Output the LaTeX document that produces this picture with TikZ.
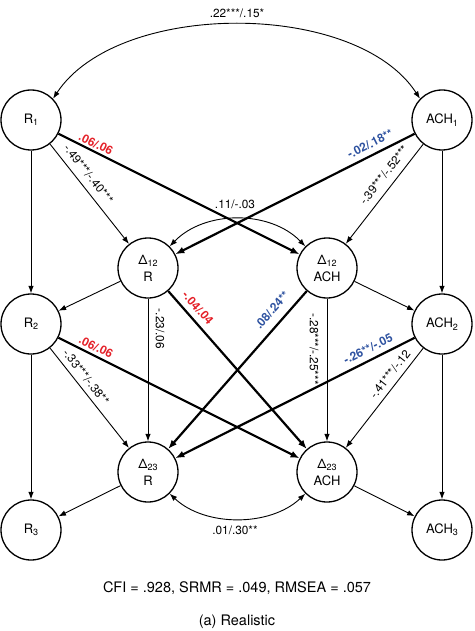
\documentclass[tikz,border=0pt]{standalone}
\usepackage{fontspec}
\setmainfont{TeX Gyre Heros}
\usetikzlibrary{arrows.meta}
\definecolor{lblred}{RGB}{228,32,40}
\definecolor{lblblue}{RGB}{46,82,160}
\newcommand{\sbs}[1]{\raisebox{-0.35ex}{\fontsize{9}{9}\selectfont #1}}
\begin{document}
\begin{tikzpicture}[x=1pt,y=1pt,
  var/.style={circle, draw, line width=1.3pt, minimum size=60pt, inner sep=0pt,
    font=\fontsize{13}{17}\selectfont, align=center},
  thinarr/.style={line width=0.9pt, -{Latex[length=7.5pt,width=5.5pt]}},
  thickarr/.style={line width=2.2pt, -{Latex[length=9pt,width=7pt]}},
  biarr/.style={line width=0.9pt, {Latex[length=7.5pt,width=5.5pt]}-{Latex[length=7.5pt,width=5.5pt]}},
  lab/.style={font=\fontsize{11.8}{13}\selectfont, inner sep=0pt},
  rlab/.style={font=\fontsize{11.8}{13}\selectfont\bfseries, inner sep=0pt, text=lblred},
  blab/.style={font=\fontsize{11.8}{13}\selectfont\bfseries, inner sep=0pt, text=lblblue},
]
\useasboundingbox (0,0) rectangle (474,-631);

\node[var] (R1) at (31,-120) {R\sbs{1}};
\node[var] (A1) at (442,-120) {ACH\sbs{1}};
\node[var] (D12R) at (148,-268) {Δ\sbs{12}\\R};
\node[var] (D12A) at (327,-268) {Δ\sbs{12}\\ACH};
\node[var] (R2) at (31,-324) {R\sbs{2}};
\node[var] (A2) at (442,-324) {ACH\sbs{2}};
\node[var] (D23R) at (148,-472) {Δ\sbs{23}\\R};
\node[var] (D23A) at (327,-472) {Δ\sbs{23}\\ACH};
\node[var] (R3) at (31,-530) {R\sbs{3}};
\node[var] (A3) at (442,-530) {ACH\sbs{3}};

\draw[thinarr] (R1) -- (R2);
\draw[thinarr] (R2) -- (R3);
\draw[thinarr] (A1) -- (A2);
\draw[thinarr] (A2) -- (A3);
\draw[thinarr] (R1) -- (D12R);
\draw[thinarr] (A1) -- (D12A);
\draw[thickarr] (R1) -- (D12A);
\draw[thickarr] (A1) -- (D12R);
\draw[thinarr] (D12R) -- (R2);
\draw[thinarr] (D12A) -- (A2);
\draw[thinarr] (D12R) -- (D23R);
\draw[thinarr] (D12A) -- (D23A);
\draw[thickarr] (D12R) -- (D23A);
\draw[thickarr] (D12A) -- (D23R);
\draw[thinarr] (R2) -- (D23R);
\draw[thinarr] (A2) -- (D23A);
\draw[thickarr] (R2) -- (D23A);
\draw[thickarr] (A2) -- (D23R);
\draw[thinarr] (D23R) -- (R3);
\draw[thinarr] (D23A) -- (A3);

\draw[biarr] (R1.44) .. controls (118,0) and (356,0) .. (A1.136);
\draw[biarr] (D12R.45) .. controls (205,-210) and (270,-210) .. (D12A.135);
\draw[biarr] (D23R.-45) .. controls (205,-527) and (270,-527) .. (D23A.-135);

\node[lab] (l1) at (237,-13) {.22***/.15*};
\node[rlab, rotate=-26.6] (l2) at (96,-144) {.06/.06};
\node[lab, rotate=-51.7] (l3) at (88.5,-174) {-.49***/-.40***};
\node[blab, rotate=26.7] (l4) at (370,-144) {-.02/.18**};
\node[lab, rotate=52] (l5) at (384,-175) {-.39***/-.52***};
\node[lab] (l6) at (235,-204) {.11/-.03};
\node[lab, rotate=-90] (l7) at (160,-329) {-.23/.06};
\node[rlab, rotate=-48.9] (l8) at (198,-308) {-.04/.04};
\node[blab, rotate=49] (l9) at (272,-310) {.08/.24**};
\node[lab, rotate=-90] (l10) at (314,-349) {-.28***/-.25***};
\node[rlab, rotate=-26.7] (l11) at (96,-347) {.06/.06};
\node[lab, rotate=-51.9] (l12) at (86,-377) {-.33***/-.38**};
\node[blab, rotate=26.7] (l13) at (368,-349) {-.26**/-.05};
\node[lab, rotate=52] (l14) at (390,-374) {-.41***/-.12};
\node[lab] (l15) at (235,-530) {.01/.30**};
\node[lab, font=\fontsize{14.5}{16}\selectfont] (fit) at (237,-588) {CFI = .928, SRMR = .049, RMSEA = .057};
\node[lab, font=\fontsize{14.5}{16}\selectfont] (cap) at (237,-622) {(a) Realistic};
\end{tikzpicture}
\end{document}
